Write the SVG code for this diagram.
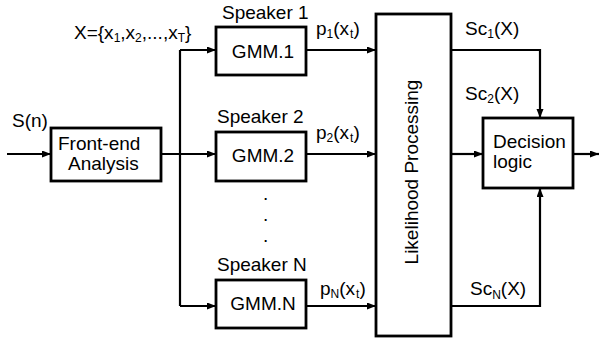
<svg xmlns="http://www.w3.org/2000/svg" width="599" height="341" viewBox="0 0 599 341">
<defs>
<marker id="ah" markerUnits="userSpaceOnUse" markerWidth="10" markerHeight="8" refX="9" refY="3.5" orient="auto">
<path d="M0,0 L9,3.5 L0,7 z" fill="#000"/>
</marker>
<style>
text{font-family:"Liberation Sans",Arial,sans-serif;font-size:19px;fill:#000}
.sub{font-size:12px}
.box{fill:#fff;stroke:#000;stroke-width:2.8}
.ln{fill:none;stroke:#000;stroke-width:2.2}
.arr{marker-end:url(#ah)}
</style>
</defs>
<rect width="599" height="341" fill="#fff"/>
<g id="connectors">
<path class="ln arr" d="M7,154 H51"/>
<path class="ln arr" d="M161,154 H216"/>
<path class="ln" d="M180,50 V306"/>
<path class="ln arr" d="M180,50 H216"/>
<path class="ln arr" d="M180,306 H216"/>
<path class="ln arr" d="M306,50 H376"/>
<path class="ln arr" d="M306,154 H376"/>
<path class="ln arr" d="M306,306 H376"/>
<path class="ln arr" d="M451,50 H540 V118"/>
<path class="ln arr" d="M451,306 H540 V188"/>
<path class="ln arr" d="M451,154 H483"/>
<path class="ln arr" d="M573,154 H599"/>
</g>
<g id="labels">
<text x="12" y="127">S(n)</text>
<text x="74" y="39">X={x<tspan class="sub" dy="3">1</tspan><tspan dy="-3">,x</tspan><tspan class="sub" dy="3">2</tspan><tspan dy="-3">,...,x</tspan><tspan class="sub" dy="3">T</tspan><tspan dy="-3">}</tspan></text>
<text x="316" y="35">p<tspan class="sub" dy="3">1</tspan><tspan dy="-3">(x</tspan><tspan class="sub" dx="1" dy="3">t</tspan><tspan dy="-3">)</tspan></text>
<text x="316" y="139">p<tspan class="sub" dy="3">2</tspan><tspan dy="-3">(x</tspan><tspan class="sub" dx="1" dy="3">t</tspan><tspan dy="-3">)</tspan></text>
<text x="320" y="295">p<tspan class="sub" dy="3">N</tspan><tspan dy="-3">(x</tspan><tspan class="sub" dx="1" dy="3">t</tspan><tspan dy="-3">)</tspan></text>
<text x="465" y="35">Sc<tspan class="sub" dy="3">1</tspan><tspan dy="-3">(X)</tspan></text>
<text x="465" y="100">Sc<tspan class="sub" dy="3">2</tspan><tspan dy="-3">(X)</tspan></text>
<text x="470" y="295">Sc<tspan class="sub" dy="4">N</tspan><tspan dy="-4">(X)</tspan></text>
<text x="263" y="200">.</text>
<text x="263" y="221">.</text>
<text x="263" y="242">.</text>
</g>
<g id="frontend">
<rect class="box" x="51" y="128" width="110" height="53"/>
<text x="58" y="150">Front-end</text>
<text x="68" y="170">Analysis</text>
</g>
<g id="gmm1">
<text x="222" y="19">Speaker 1</text>
<rect class="box" x="216" y="27" width="90" height="48"/>
<text x="263" y="57.5" text-anchor="middle">GMM.1</text>
</g>
<g id="gmm2">
<text x="217" y="123">Speaker 2</text>
<rect class="box" x="216" y="132" width="90" height="49"/>
<text x="263" y="162" text-anchor="middle">GMM.2</text>
</g>
<g id="gmmN">
<text x="217" y="271">Speaker N</text>
<rect class="box" x="216" y="280" width="90" height="48"/>
<text x="263" y="310" text-anchor="middle">GMM.N</text>
</g>
<g id="likelihood">
<rect class="box" x="376" y="14" width="75" height="322"/>
<text transform="translate(418,172) rotate(-90)" text-anchor="middle" style="font-size:19px">Likelihood Processing</text>
</g>
<g id="decision">
<rect class="box" x="483" y="118" width="90" height="70"/>
<text x="493" y="148">Decision</text>
<text x="493" y="168">logic</text>
</g>
</svg>
